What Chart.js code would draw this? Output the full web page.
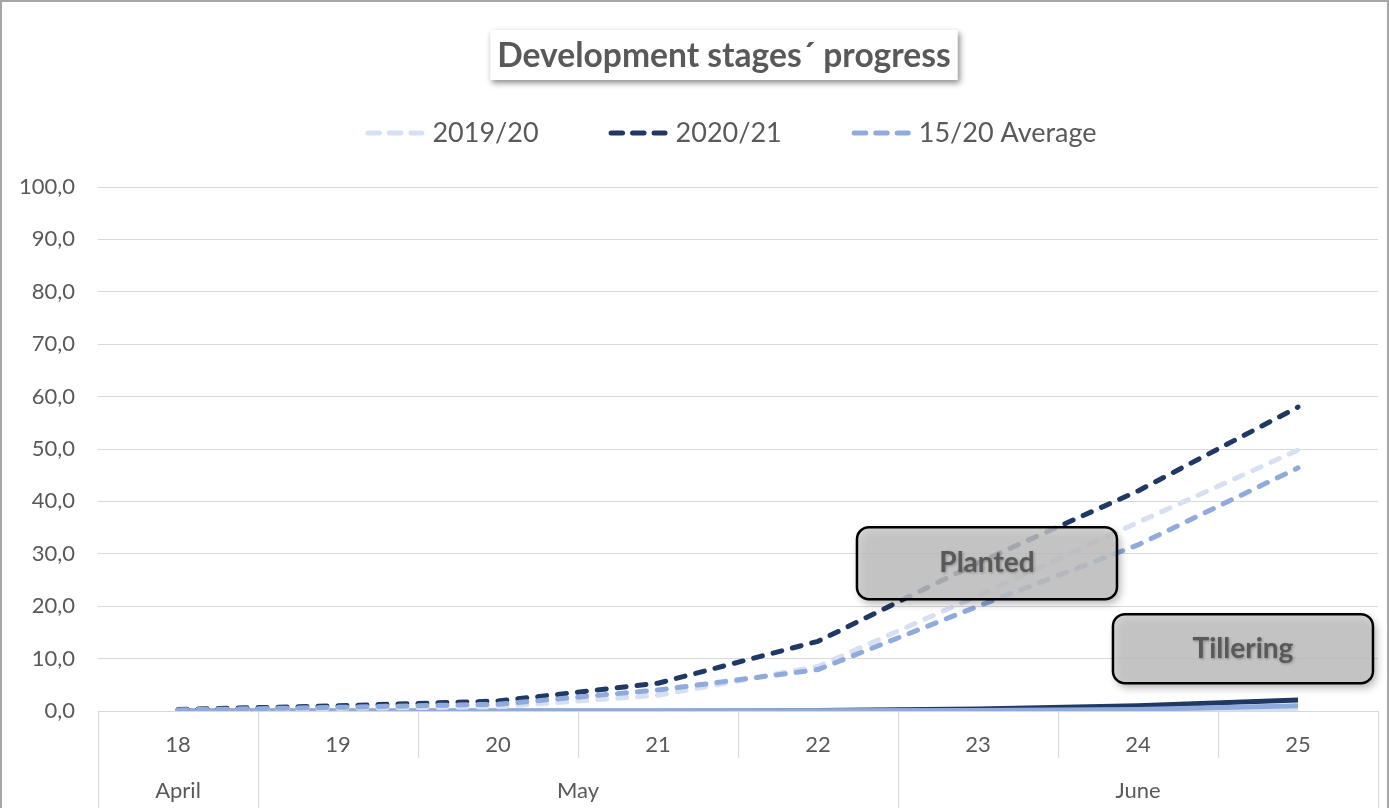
<!DOCTYPE html>
<html>
<head>
<meta charset="utf-8">
<script src="https://cdn.jsdelivr.net/npm/chart.js@4.4.1/dist/chart.umd.min.js"></script>
<style>
  html, body { margin: 0; padding: 0; background: #fff; overflow: hidden; }
  #wrap { width: 1389px; height: 808px; }
</style>
</head>
<body>
<div id="wrap"><canvas id="chart" width="1389" height="808"></canvas></div>
<script>
// Data
const weeks = ["18", "19", "20", "21", "22", "23", "24", "25"];
const months = ["April", "May", "May", "May", "May", "June", "June", "June"];

const planted1920 = [0.1, 0.5, 0.8, 3.0, 8.5, 22.0, 36.0, 49.8];
const planted2021 = [0.3, 1.0, 1.9, 5.3, 13.3, 28.3, 42.0, 58.0];
const plantedAvg = [0.2, 0.7, 1.3, 4.0, 7.9, 20.0, 31.7, 46.4];

const tiller1920 = [0, 0, 0, 0, 0, 0, 0.1, 0.5];
const tiller2021 = [0, 0, 0, 0, 0.1, 0.4, 1.0, 2.1];
const tillerAvg = [0, 0, 0, 0, 0, 0.1, 0.3, 1.0];

const chartTitle = "Development stages´ progress";
const notes = [
  { text: "Planted", at: 5.056, value: 28.2, w: 260, h: 72 },
  { text: "Tillering", at: 6.656, value: 11.9, w: 260, h: 69 },
];

// Colours / fonts
const LIGHT = "#d6e0f2";
const DARK = "#203864";
const AVG = "#8faadc";
const TEXT = "#595959";
const GRID = "#d9d9d9";
const FONT = "Lato, 'Open Sans', sans-serif";

function planted(label, data, color, order) {
  return {
    label, data, order,
    borderColor: color,
    backgroundColor: color,
    borderWidth: 5,
    borderDash: [9, 11],
    borderCapStyle: "round",
    borderJoinStyle: "round",
    pointRadius: 0,
    tension: 0,
    fill: false,
    showInLegend: true,
  };
}

function tiller(label, data, color, order) {
  return {
    label, data, order,
    borderColor: color,
    backgroundColor: color,
    borderWidth: 5,
    borderJoinStyle: "round",
    pointRadius: 0,
    tension: 0,
    fill: false,
    showInLegend: false,
  };
}

// draws frame, title box, legend, month row and note boxes
const decor = {
  id: "decor",
  beforeDraw(chart) {
    const ctx = chart.ctx;
    ctx.save();
    ctx.fillStyle = "#fff";
    ctx.fillRect(0, 0, chart.width, chart.height);
    ctx.restore();
  },
  afterDatasetsDraw(chart) {
    const ctx = chart.ctx;
    const xs = chart.scales.x;
    const ys = chart.scales.y;
    const area = chart.chartArea;
    const step = xs.getPixelForValue(1) - xs.getPixelForValue(0);
    const x0 = xs.getPixelForValue(0);

    ctx.save();

    // category separators + month row
    ctx.strokeStyle = GRID;
    ctx.lineWidth = 1;
    for (let i = 0; i <= weeks.length; i++) {
      const bx = Math.round(x0 + (i - 0.5) * step) + 0.5;
      const full = i === 0 || i === weeks.length || months[i] !== months[i - 1];
      ctx.beginPath();
      ctx.moveTo(bx, area.bottom);
      ctx.lineTo(bx, full ? chart.height : area.bottom + 47);
      ctx.stroke();
    }
    ctx.fillStyle = TEXT;
    ctx.font = "22px " + FONT;
    ctx.textAlign = "center";
    ctx.textBaseline = "middle";
    let start = 0;
    for (let i = 1; i <= months.length; i++) {
      if (i === months.length || months[i] !== months[start]) {
        const left = x0 + (start - 0.5) * step;
        const right = x0 + (i - 0.5) * step;
        ctx.fillText(months[start], (left + right) / 2, area.bottom + 80);
        start = i;
      }
    }

    // note boxes
    notes.forEach((n) => {
      const cx = x0 + n.at * step;
      const cy = ys.getPixelForValue(n.value);
      const bx = cx - n.w / 2, by = cy - n.h / 2;
      ctx.save();
      ctx.shadowColor = "rgba(0,0,0,0.4)";
      ctx.shadowBlur = 8;
      ctx.shadowOffsetX = 3;
      ctx.shadowOffsetY = 4;
      ctx.beginPath();
      ctx.roundRect(bx, by, n.w, n.h, 12);
      ctx.fillStyle = "rgba(200,200,200,0.8)";
      ctx.fill();
      ctx.shadowColor = "transparent";
      ctx.lineWidth = 2.5;
      ctx.strokeStyle = "#000";
      ctx.stroke();
      ctx.restore();

      ctx.save();
      ctx.font = "bold 28px " + FONT;
      ctx.fillStyle = TEXT;
      ctx.textAlign = "center";
      ctx.textBaseline = "middle";
      ctx.shadowColor = "rgba(0,0,0,0.3)";
      ctx.shadowBlur = 3;
      ctx.shadowOffsetX = 1;
      ctx.shadowOffsetY = 1;
      ctx.fillText(n.text, cx, cy);
      ctx.restore();
    });

    // title box, text sized to the reference width
    ctx.font = "bold 30px " + FONT;
    const size = 30 * 454 / ctx.measureText(chartTitle).width;
    ctx.font = "bold " + size.toFixed(1) + "px " + FONT;
    const tw = ctx.measureText(chartTitle).width;
    const tcx = 724, tcy = 55;
    ctx.save();
    ctx.shadowColor = "rgba(0,0,0,0.45)";
    ctx.shadowBlur = 6;
    ctx.shadowOffsetX = 2;
    ctx.shadowOffsetY = 3;
    ctx.fillStyle = "#fff";
    ctx.fillRect(tcx - tw / 2 - 7, tcy - 25, tw + 14, 50);
    ctx.restore();
    ctx.fillStyle = TEXT;
    ctx.textAlign = "center";
    ctx.fillText(chartTitle, tcx, tcy + 1);

    // legend
    const items = chart.data.datasets.filter((d) => d.showInLegend);
    ctx.font = "27px " + FONT;
    const lineW = 59, gap = 8, spacing = 70;
    let total = 0;
    items.forEach((d, k) => {
      total += lineW + gap + ctx.measureText(d.label).width + (k ? spacing : 0);
    });
    let lx = 731 - total / 2;
    const ly = 133;
    items.forEach((d) => {
      ctx.save();
      ctx.strokeStyle = d.borderColor;
      ctx.lineWidth = 5;
      ctx.lineCap = "round";
      ctx.setLineDash([11.5, 10]);
      ctx.beginPath();
      ctx.moveTo(lx + 2.5, ly);
      ctx.lineTo(lx + lineW - 2.5, ly);
      ctx.stroke();
      ctx.restore();
      ctx.fillStyle = TEXT;
      ctx.textAlign = "left";
      ctx.textBaseline = "middle";
      ctx.fillText(d.label, lx + lineW + gap, ly);
      lx += lineW + gap + ctx.measureText(d.label).width + spacing;
    });

    // outer frame
    ctx.strokeStyle = "#a6a6a6";
    ctx.lineWidth = 2;
    ctx.strokeRect(1, 1, chart.width - 2, chart.height + 10);

    ctx.restore();
  },
};

const ctx = document.getElementById("chart").getContext("2d");
new Chart(ctx, {
  type: "line",
  data: {
    labels: weeks,
    datasets: [
      planted("2019/20", planted1920, LIGHT, 3),
      planted("2020/21", planted2021, DARK, 2),
      planted("15/20 Average", plantedAvg, AVG, 1),
      tiller("Tillering 2019/20", tiller1920, LIGHT, 5),
      tiller("Tillering 2020/21", tiller2021, DARK, 6),
      tiller("Tillering 15/20 Average", tillerAvg, AVG, 4),
    ],
  },
  options: {
    responsive: false,
    devicePixelRatio: 1,
    animation: false,
    layout: { padding: { top: 187, left: 0, right: 11, bottom: 0 } },
    plugins: {
      legend: { display: false },
      title: { display: false },
      tooltip: { enabled: false },
    },
    scales: {
      x: {
        type: "category",
        offset: true,
        grid: { display: false, drawTicks: false },
        border: { display: false },
        ticks: { color: TEXT, font: { family: FONT, size: 22 }, padding: 21, maxRotation: 0 },
        afterFit(scale) { scale.height = 97; },
      },
      y: {
        min: 0,
        max: 100,
        border: { display: false },
        grid: { color: GRID, lineWidth: 1, drawTicks: false },
        ticks: {
          stepSize: 10,
          color: TEXT,
          font: { family: FONT, size: 22 },
          padding: 23,
          callback: (v) => v.toFixed(1).replace(".", ","),
        },
        afterFit(scale) { scale.width = 98; },
      },
    },
  },
  plugins: [decor],
});
</script>
</body>
</html>
